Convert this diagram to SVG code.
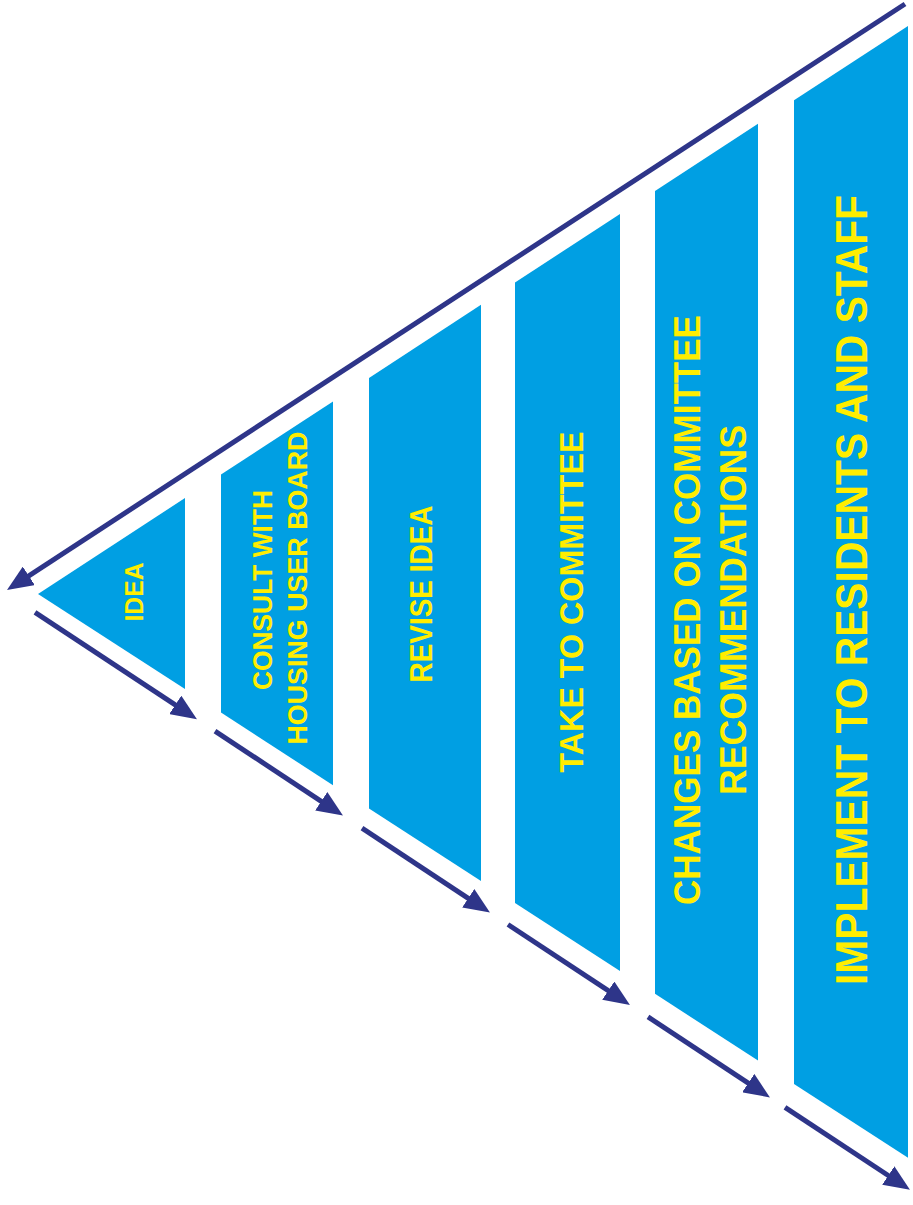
<svg xmlns="http://www.w3.org/2000/svg" width="913" height="1205" viewBox="0 0 913 1205">
  <style>
    .stage { fill: #009fe3; }
    .lbl { fill: #ffed00; font-family: "Liberation Sans", Arial, sans-serif; font-weight: bold; text-anchor: middle; }
    .conn { stroke: #2e3589; stroke-width: 5; fill: none; marker-end: url(#ah); }
  </style>
  <defs>
    <marker id="ah" viewBox="0 0 26 22" refX="10" refY="11" markerWidth="26" markerHeight="22" markerUnits="userSpaceOnUse" orient="auto">
      <path d="M0,0 L26,11 L0,22 Z" fill="#2e3589"/>
    </marker>
  </defs>
  <rect width="913" height="1205" fill="#ffffff"/>

  <g id="stage-idea">
    <polygon class="stage" points="38,594 185,498 185,689"/>
    <text class="lbl" font-size="26" textLength="59" lengthAdjust="spacingAndGlyphs" transform="translate(143,592) rotate(-90)">IDEA</text>
  </g>
  <g id="stage-consult">
    <polygon class="stage" points="221,474.5 333,401.4 333,785.2 221,712.6"/>
    <text class="lbl" font-size="27" textLength="200" lengthAdjust="spacingAndGlyphs" transform="translate(272,590) rotate(-90)">CONSULT WITH</text>
    <text class="lbl" font-size="27" textLength="313" lengthAdjust="spacingAndGlyphs" transform="translate(307,588) rotate(-90)">HOUSING USER BOARD</text>
  </g>
  <g id="stage-revise">
    <polygon class="stage" points="369,377.9 481,304.7 481,881.1 369,808.5"/>
    <text class="lbl" font-size="31" textLength="177" lengthAdjust="spacingAndGlyphs" transform="translate(432,594) rotate(-90)">REVISE IDEA</text>
  </g>
  <g id="stage-committee">
    <polygon class="stage" points="515,282.5 620,214 620,971.1 515,903.1"/>
    <text class="lbl" font-size="34" textLength="341" lengthAdjust="spacingAndGlyphs" transform="translate(583,602) rotate(-90)">TAKE TO COMMITTEE</text>
  </g>
  <g id="stage-changes">
    <polygon class="stage" points="655,191.1 758,123.8 758,1060.6 655,993.8"/>
    <text class="lbl" font-size="36" textLength="590" lengthAdjust="spacingAndGlyphs" transform="translate(700,610) rotate(-90)">CHANGES BASED ON COMMITTEE</text>
    <text class="lbl" font-size="36" textLength="370" lengthAdjust="spacingAndGlyphs" transform="translate(746,610) rotate(-90)">RECOMMENDATIONS</text>
  </g>
  <g id="stage-implement">
    <polygon class="stage" points="794,100.3 908,25.9 908,1157.8 794,1083.9"/>
    <text class="lbl" font-size="45" textLength="790" lengthAdjust="spacingAndGlyphs" transform="translate(867,590) rotate(-90)">IMPLEMENT TO RESIDENTS AND STAFF</text>
  </g>

  <g id="connectors">
    <line class="conn" x1="905" y1="4" x2="20.4" y2="581.3"/>
    <line class="conn" x1="35" y1="612.3" x2="183.6" y2="710.4"/>
    <line class="conn" x1="215" y1="731.1" x2="329.6" y2="806.8"/>
    <line class="conn" x1="362" y1="828.1" x2="476.6" y2="903.8"/>
    <line class="conn" x1="508" y1="924.5" x2="616.6" y2="996.2"/>
    <line class="conn" x1="648" y1="1016.9" x2="756.6" y2="1088.6"/>
    <line class="conn" x1="785" y1="1107.3" x2="896.6" y2="1181"/>
  </g>
</svg>
